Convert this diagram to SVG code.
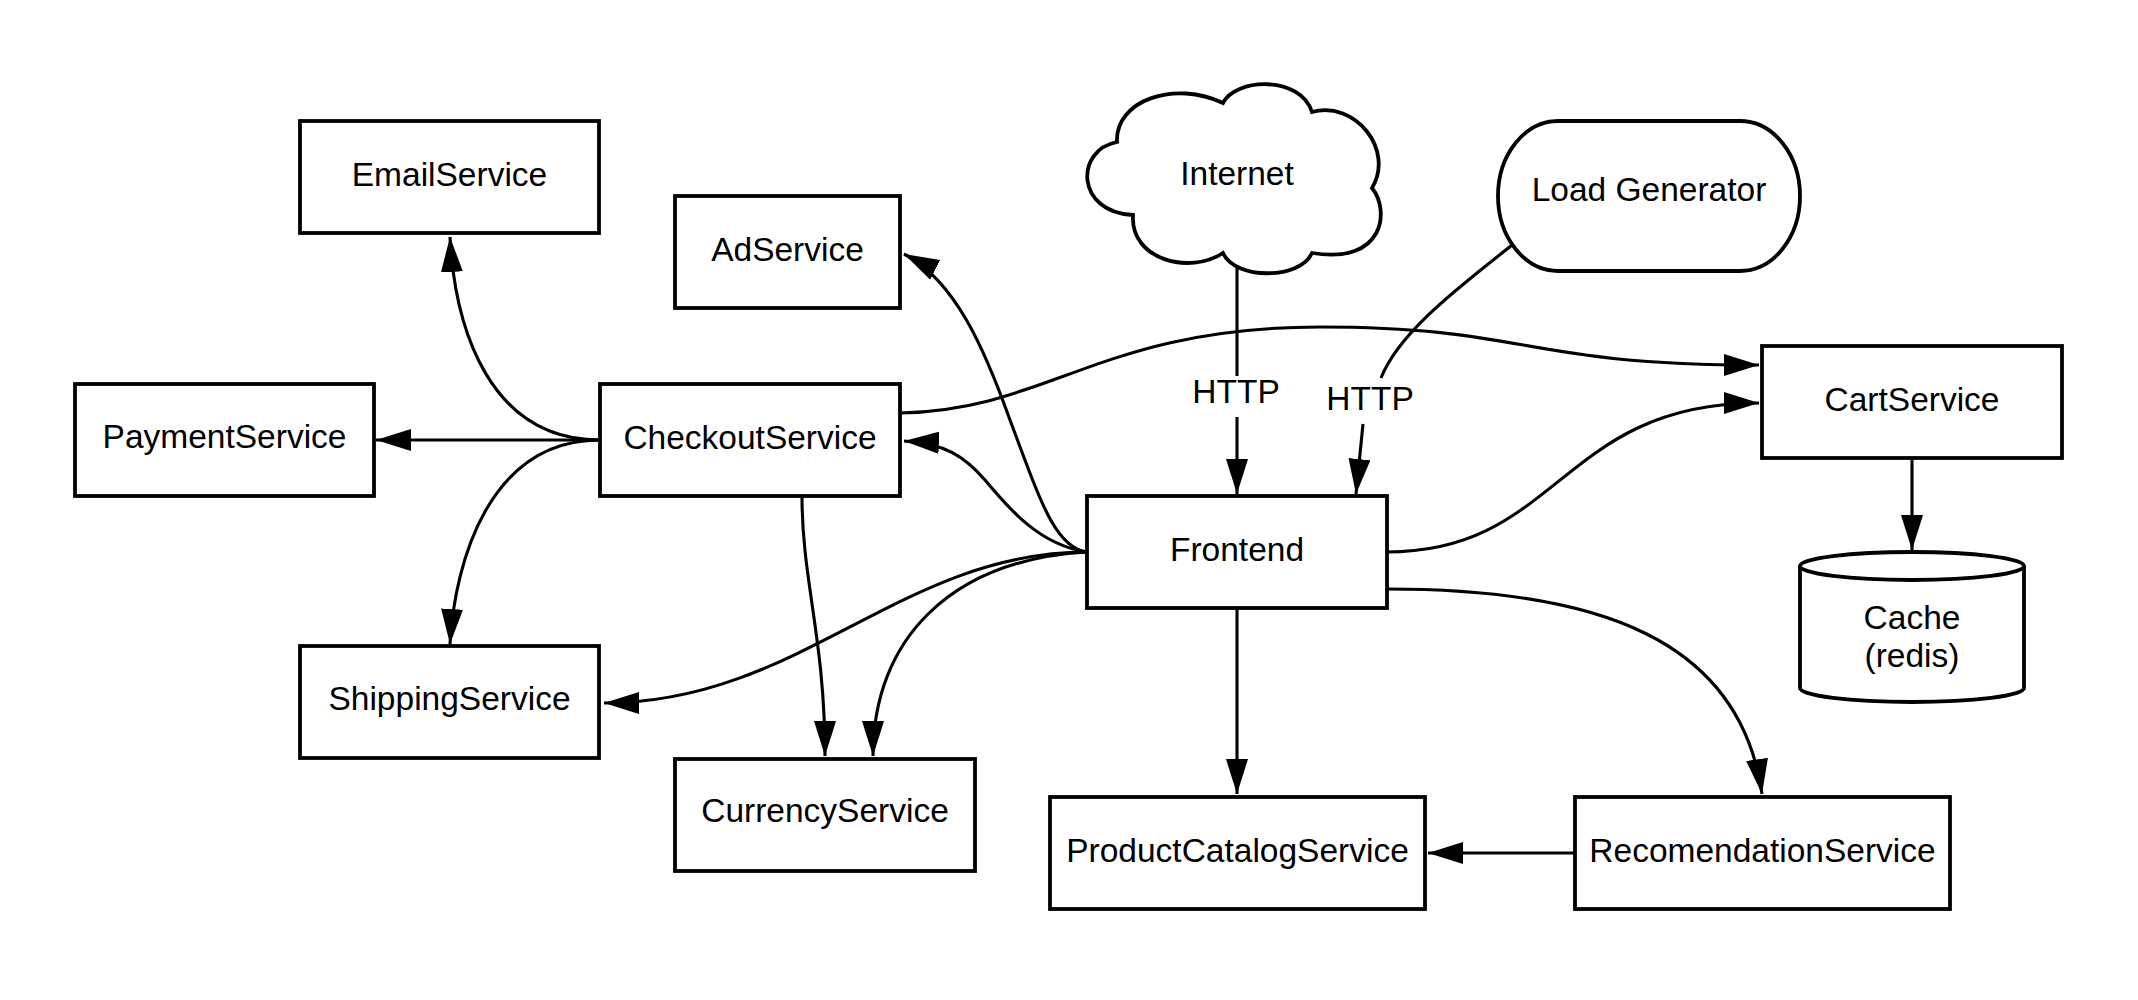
<svg xmlns="http://www.w3.org/2000/svg" width="2138" height="1000" viewBox="0 0 2138 1000">
<style>
.box{fill:#fff;stroke:#000;stroke-width:3.8}
.lbl{font-family:"Liberation Sans",Arial,sans-serif;font-size:33.5px;fill:#000;text-anchor:middle}
.edge{fill:none;stroke:#000;stroke-width:3.1;marker-end:url(#arr)}
</style>
<defs>
<marker id="arr" markerUnits="userSpaceOnUse" markerWidth="36" markerHeight="23" refX="35" refY="11" orient="auto">
<path d="M0,0 L35,11 L0,22 Z" fill="#000"/>
</marker>
</defs>
<rect width="2138" height="1000" fill="#fff"/>
<g id="connectors">
<path class="edge" d="M600,440 C490,440 455,330 450,237"/>
<path class="edge" d="M600,440 L376,440"/>
<path class="edge" d="M600,440 C490,440 455,560 450,644"/>
<path class="edge" d="M802,497 C802,580 825,640 825,756"/>
<path class="edge" d="M1087,552 C1055,548 1040,500 1010,420 C985,350 955,280 904,254"/>
<path class="edge" d="M1087,552 C1040,545 1010,510 985,480 C965,457 945,443 904,441"/>
<path class="edge" d="M1087,552 C900,552 800,703 604,703"/>
<path class="edge" d="M1087,552 C950,560 873,640 873,756"/>
<path class="edge" d="M900,413 C1050,410 1100,327 1320,327 C1530,327 1520,365 1759,365"/>
<path class="edge" d="M1387,552 C1560,552 1560,403 1759,403"/>
<path class="edge" d="M1912,458 L1912,550"/>
<path class="edge" d="M1237,267 V376 M1237,417 V494"/>
<path class="edge" d="M1512,245 C1465,283 1400,330 1381,378 M1363,424 L1356,494"/>
<path class="edge" d="M1575,853 L1428,853"/>
<path class="edge" d="M1237,608 L1237,794"/>
<path class="edge" d="M1387,589 C1600,589 1740,640 1762,794"/>
<text class="lbl" x="1236" y="403">HTTP</text>
<text class="lbl" x="1370" y="410">HTTP</text>
</g>
<g id="EmailService"><rect class="box" x="300" y="121" width="299" height="112"/><text class="lbl" x="449.5" y="186">EmailService</text></g>
<g id="AdService"><rect class="box" x="675" y="196" width="225" height="112"/><text class="lbl" x="787.5" y="261">AdService</text></g>
<g id="PaymentService"><rect class="box" x="75" y="384" width="299" height="112"/><text class="lbl" x="224.5" y="448">PaymentService</text></g>
<g id="CheckoutService"><rect class="box" x="600" y="384" width="300" height="112"/><text class="lbl" x="750" y="449">CheckoutService</text></g>
<g id="ShippingService"><rect class="box" x="300" y="646" width="299" height="112"/><text class="lbl" x="449.5" y="710">ShippingService</text></g>
<g id="CurrencyService"><rect class="box" x="675" y="759" width="300" height="112"/><text class="lbl" x="825" y="822">CurrencyService</text></g>
<g id="Frontend"><rect class="box" x="1087" y="496" width="300" height="112"/><text class="lbl" x="1237" y="561">Frontend</text></g>
<g id="ProductCatalogService"><rect class="box" x="1050" y="797" width="375" height="112"/><text class="lbl" x="1237.5" y="862">ProductCatalogService</text></g>
<g id="RecomendationService"><rect class="box" x="1575" y="797" width="375" height="112"/><text class="lbl" x="1762.5" y="862">RecomendationService</text></g>
<g id="CartService"><rect class="box" x="1762" y="346" width="300" height="112"/><text class="lbl" x="1912" y="411">CartService</text></g>
<g id="Cache">
<path class="box" d="M1800,566 A112,14 0 0 1 2024,566 V688 A112,14 0 0 1 1800,688 Z"/>
<path d="M1800,566 A112,14 0 0 0 2024,566" fill="none" stroke="#000" stroke-width="3.8"/>
<text class="lbl" x="1912" y="629">Cache</text>
<text class="lbl" x="1912" y="667">(redis)</text>
</g>
<g id="LoadGenerator"><rect class="box" x="1498" y="121" width="302" height="150" rx="60" ry="75"/><text class="lbl" x="1649" y="201">Load Generator</text></g>
<g id="Internet">
<path class="box" d="M1117,142 C1115,100 1175,80 1223,103 C1235,78 1300,75 1312,112 C1355,100 1395,150 1372,188 C1390,210 1385,265 1312,253 C1300,280 1235,280 1223,253 C1190,275 1130,260 1133,215 C1075,212 1075,150 1117,142 Z"/>
<text class="lbl" x="1237" y="185">Internet</text>
</g>
</svg>
